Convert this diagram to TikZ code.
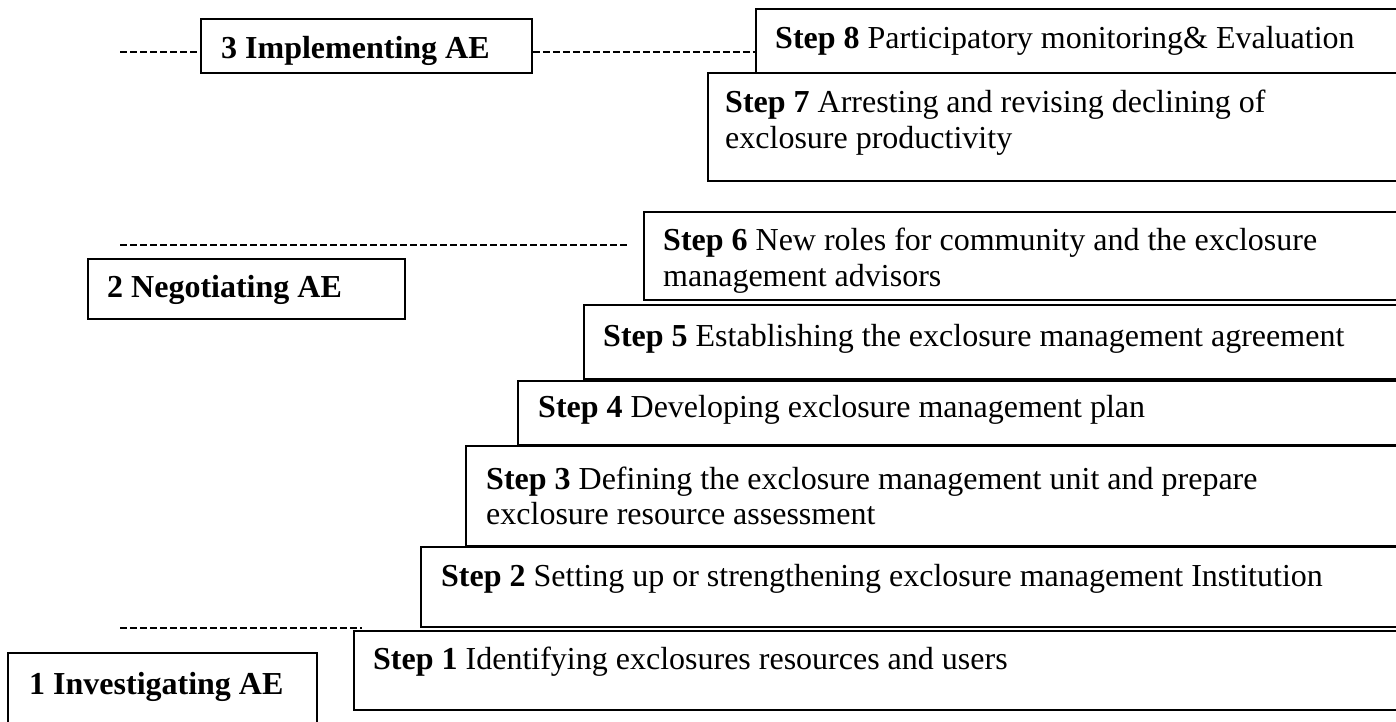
\documentclass[tikz,border=0pt]{standalone}
\usepackage{fontspec}
\setmainfont{Liberation Serif}
\begin{document}
\begin{tikzpicture}[x=1pt,y=-1pt,
  box/.style={draw, line width=1.8pt, inner sep=0pt, anchor=north west, minimum width=1100pt},
  lbl/.style={anchor=base west, inner sep=0pt, font=\fontsize{32}{38}\selectfont},
  dash line/.style={line width=2.8pt, dash pattern=on 7pt off 3pt}]
\useasboundingbox (0,0) rectangle (1396,721);
\clip (0,0) rectangle (1396,721);
\fill[white] (0,0) rectangle (1396,721);
% step boxes
\node[box, minimum height=64pt]  (s8) at (755,8) {};
\node[box, minimum height=108pt] (s7) at (707,72) {};
\node[box, minimum height=88pt]  (s6) at (643,211) {};
\node[box, minimum height=74pt]  (s5) at (583,304) {};
\node[box, minimum height=64pt]  (s4) at (517,380) {};
\node[box, minimum height=100pt] (s3) at (465,445) {};
\node[box, minimum height=80pt]  (s2) at (420,546) {};
\node[box, minimum height=79pt]  (s1) at (353,630) {};
% phase boxes
\node[box, minimum width=331pt, minimum height=54pt] (p3) at (200,18) {};
\node[box, minimum width=317pt, minimum height=60pt] (p2) at (87,258) {};
\node[box, minimum width=309pt, minimum height=90pt] (p1) at (7,652) {};
% texts
\node[lbl] (t8) at (775,48) {\textbf{Step 8} Participatory monitoring\& Evaluation};
\node[lbl] (t7a) at (725,112) {\textbf{Step 7} Arresting and revising declining of};
\node[lbl] (t7b) at (725,148) {exclosure productivity};
\node[lbl] (t6a) at (663,250) {\textbf{Step 6} New roles for community and the exclosure};
\node[lbl] (t6b) at (663,286) {management advisors};
\node[lbl] (t5) at (603,346) {\textbf{Step 5} Establishing the exclosure management agreement};
\node[lbl] (t4) at (538,417) {\textbf{Step 4} Developing exclosure management plan};
\node[lbl] (t3a) at (486,489) {\textbf{Step 3} Defining the exclosure management unit and prepare};
\node[lbl] (t3b) at (486,524) {exclosure resource assessment};
\node[lbl] (t2) at (441,586) {\textbf{Step 2} Setting up or strengthening exclosure management Institution};
\node[lbl] (t1) at (373,669) {\textbf{Step 1} Identifying exclosures resources and users};
\node[lbl] (tp3) at (221,58) {\textbf{3 Implementing AE}};
\node[lbl] (tp2) at (107,297) {\textbf{2 Negotiating AE}};
\node[lbl] (tp1) at (29,694) {\textbf{1 Investigating AE}};
% dashed separators
\coordinate (d3a) at (120,52);
\coordinate (d2a) at (120,245);
\coordinate (d2b) at (628,245);
\coordinate (d1a) at (120,628);
\coordinate (d1b) at (362,628);
\draw[dash line] (d3a) -- (d3a -| p3.west);
\draw[dash line] (d3a -| p3.east) -- (d3a -| s8.west);
\draw[dash line] (d2a) -- (d2b);
\draw[dash line] (d1a) -- (d1b);
\end{tikzpicture}
\end{document}
